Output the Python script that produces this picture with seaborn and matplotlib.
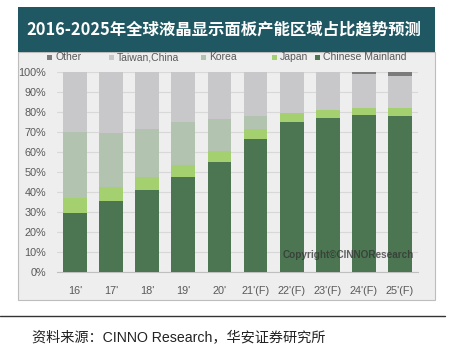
import matplotlib
matplotlib.use("Agg")
import matplotlib.pyplot as plt
import seaborn as sns
import pandas as pd
import numpy as np
from matplotlib.patches import Rectangle
from matplotlib.lines import Line2D

years = ["16'", "17'", "18'", "19'", "20'", "21'(F)", "22'(F)", "23'(F)", "24'(F)", "25'(F)"]
chinese_mainland = [29.5, 35.5, 41.0, 47.5, 55.0, 66.5, 75.0, 77.0, 78.5, 78.0]
japan = [7.5, 7.0, 6.5, 6.0, 5.5, 5.0, 4.5, 4.0, 3.5, 4.0]
korea = [33.0, 27.0, 24.0, 21.5, 16.0, 6.5, 0.0, 0.0, 0.0, 0.0]
taiwan = [30.0, 30.5, 28.5, 25.0, 23.5, 22.0, 20.5, 19.0, 17.0, 16.0]
other = [0.0, 0.0, 0.0, 0.0, 0.0, 0.0, 0.0, 0.0, 1.0, 2.0]

series_names = ["Other", "Taiwan,China", "Korea", "Japan", "Chinese Mainland"]
colors = {"Other": "#7b7b7b", "Taiwan,China": "#c8c8ca", "Korea": "#b2c3b0",
          "Japan": "#a5d06f", "Chinese Mainland": "#4b7651"}

sns.set_theme(style="white")
plt.rcParams['font.family'] = ['Liberation Sans', 'Noto Sans CJK SC', 'DejaVu Sans']

W, H = 450, 347
fig = plt.figure(figsize=(W / 100, H / 100), dpi=100, facecolor="white")

def fx(px):
    return px / W

def fy(py):
    return 1 - py / H

# chart box background
fig.patches.append(Rectangle((fx(18), fy(300)), fx(435) - fx(18), fy(52) - fy(300),
                             transform=fig.transFigure, facecolor="#eeeeef",
                             edgecolor="#bdbdbd", linewidth=0.8, zorder=-5))
# title banner
fig.patches.append(Rectangle((fx(18), fy(52)), fx(435) - fx(18), fy(7) - fy(52),
                             transform=fig.transFigure, facecolor="#1f5862",
                             edgecolor="none", zorder=-5))
fig.text(fx(224), fy(30), "2016-2025年全球液晶显示面板产能区域占比趋势预测",
         color="white", fontsize=11.8, fontweight="heavy", ha="center", va="center",
         family=['Noto Sans CJK SC', 'DejaVu Sans'])

ax = fig.add_axes([fx(57), fy(272), fx(418) - fx(57), fy(72) - fy(272)])
ax.set_zorder(2)
ax.set_facecolor("none")

df = pd.DataFrame({"year": years, "Chinese Mainland": chinese_mainland, "Japan": japan,
                   "Korea": korea, "Taiwan,China": taiwan, "Other": other})
stack_order = ["Chinese Mainland", "Japan", "Korea", "Taiwan,China", "Other"]
cum = df[stack_order].cumsum(axis=1)
for name in reversed(stack_order):
    sns.barplot(x=df["year"], y=cum[name], color=colors[name], saturation=1,
                width=0.66, ax=ax, zorder=3, linewidth=0)

ax.set_ylim(0, 100)
ax.set_xlim(-0.5, 9.5)
ax.set_yticks(np.arange(0, 101, 10))
ax.set_yticklabels([f"{v}%" for v in range(0, 101, 10)])
ax.set_xlabel("")
ax.set_ylabel("")
ax.grid(axis="y", color="#d8d8d8", linewidth=0.8, zorder=0)
ax.set_axisbelow(True)
for s in ["top", "right", "left"]:
    ax.spines[s].set_visible(False)
ax.spines["bottom"].set_color("#bfbfbf")
ax.spines["bottom"].set_linewidth(0.8)
ax.tick_params(axis="both", length=0, labelsize=7.8, colors="#595959")
ax.tick_params(axis="x", pad=10)
ax.tick_params(axis="y", pad=8)

# legend
leg_x = [50, 112, 204, 275, 318]
for name, x in zip(series_names, leg_x):
    fig.patches.append(Rectangle((fx(x - 3), fy(60)), fx(5), fy(55) - fy(60),
                                 transform=fig.transFigure, facecolor=colors[name],
                                 edgecolor="none", zorder=1))
    fig.text(fx(x + 5), fy(57.5), name, fontsize=7.5, color="#595959",
             ha="left", va="center")

# watermark
fig.text(fx(348), fy(255), "Copyright©CINNOResearch", fontsize=7.2, fontweight="bold",
         color="#333333", alpha=0.75, ha="center", va="center", zorder=10)

# source line
fig.add_artist(Line2D([fx(0), fx(445)], [fy(316), fy(316)], transform=fig.transFigure,
                      color="#333333", linewidth=1.0))
fig.text(fx(32), fy(338), "资料来源：CINNO Research，华安证券研究所", fontsize=10.2,
         color="#222222", ha="left", va="center")

fig.savefig("out.png", dpi=100, facecolor="white")
